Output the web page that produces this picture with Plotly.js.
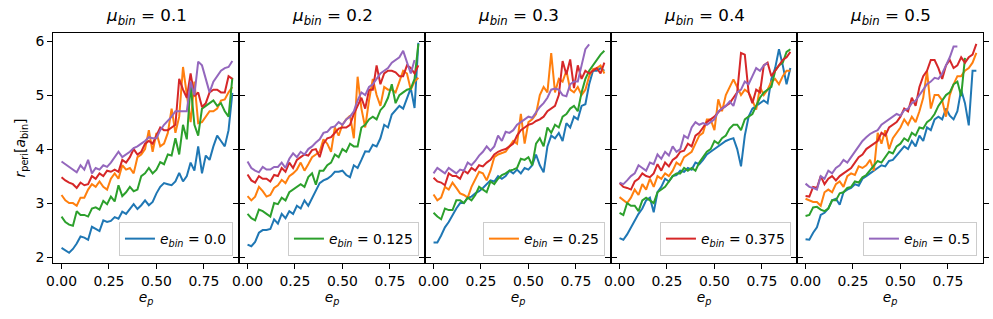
<!DOCTYPE html>
<html>
<head>
<meta charset="utf-8">
<script src="https://cdn.plot.ly/plotly-3.0.1.min.js"></script>
<style>html,body{margin:0;padding:0;background:#fff;}#chart{width:993px;height:319px;}</style>
</head>
<body>
<div id="chart"></div>
<script>
// eccentricity of planet (x values)
const ep = [0,0.02,0.04,0.06,0.08,0.1,0.12,0.14,0.16,0.18,0.2,0.22,0.24,0.26,0.28,0.3,0.32,0.34,0.36,0.38,0.4,0.42,0.44,0.46,0.48,0.5,0.52,0.54,0.56,0.58,0.6,0.62,0.64,0.66,0.68,0.7,0.72,0.74,0.76,0.78,0.8,0.82,0.84,0.86,0.88,0.9];

const muBin = ["0.1","0.2","0.3","0.4","0.5"];
const eBinLabels = ["0.0","0.125","0.25","0.375","0.5"];
const xTickVals = [0,0.25,0.5,0.75];
const xTickText = ["0.00","0.25","0.50","0.75"];
const yTickVals = [2,3,4,5,6];

// mu_bin = 0.1
const p1_blue = [2.17,2.12,2.08,2.15,2.25,2.38,2.36,2.32,2.56,2.52,2.48,2.68,2.65,2.67,2.74,2.71,2.84,2.80,2.88,2.98,2.89,2.96,3.05,2.96,3.02,3.18,3.30,3.37,3.35,3.33,3.40,3.56,3.40,3.50,3.75,3.60,4.05,3.55,3.88,3.80,4.05,4.25,4.15,4.05,4.35,5.04];
const p1_orange = [3.15,3.05,3.00,3.00,2.95,3.10,3.10,3.25,3.35,3.30,3.40,3.30,3.25,3.45,3.55,3.45,3.70,3.62,3.65,3.55,3.85,3.90,4.00,4.35,3.95,4.30,4.05,4.10,4.30,4.75,4.30,4.60,5.52,5.00,4.50,5.25,4.48,4.50,4.60,4.70,4.70,4.75,4.90,4.92,5.05,5.15];
const p1_green = [2.75,2.65,2.60,2.58,2.85,2.78,2.78,2.75,2.90,2.92,2.88,3.04,2.98,3.12,3.03,3.33,3.13,3.20,3.30,3.22,3.25,3.50,3.55,3.65,3.55,3.62,3.76,3.72,3.90,3.88,4.20,3.90,4.45,4.18,5.20,4.45,4.25,4.75,4.80,4.85,4.90,4.80,4.85,4.70,4.60,5.32];
const p1_red = [3.48,3.42,3.38,3.35,3.28,3.38,3.33,3.35,3.50,3.45,3.55,3.50,3.60,3.58,3.62,3.58,3.80,3.75,3.85,4.00,3.90,3.95,4.10,4.15,4.10,4.25,4.40,4.35,4.35,4.40,4.45,5.30,5.10,4.95,5.40,4.98,5.05,4.78,4.85,5.05,5.10,5.10,5.05,5.05,5.35,5.30];
const p1_purple = [3.77,3.72,3.67,3.62,3.57,3.70,3.62,3.80,3.55,3.65,3.62,3.70,3.67,3.75,3.85,3.95,3.85,3.90,3.95,4.02,4.05,4.10,4.15,4.22,4.20,4.20,4.35,4.45,4.52,4.60,4.70,4.70,4.70,4.70,5.25,5.00,5.62,5.55,5.30,5.05,5.25,5.35,5.45,5.50,5.52,5.63];

// mu_bin = 0.2
const p2_blue = [2.23,2.20,2.28,2.45,2.50,2.50,2.52,2.70,2.62,2.80,2.72,2.85,2.80,2.95,2.90,3.05,2.95,3.10,3.25,3.37,3.42,3.45,3.50,3.58,3.58,3.60,3.52,3.48,3.70,3.65,3.80,3.96,3.95,4.08,4.05,4.20,4.45,4.40,4.64,4.72,4.80,4.75,4.95,5.13,4.76,5.97];
const p2_orange = [3.13,3.05,3.12,3.30,3.22,3.12,3.15,3.28,3.33,3.43,3.37,3.50,3.55,3.62,3.75,3.60,3.72,3.85,3.90,3.95,4.18,4.10,3.95,4.40,4.25,4.45,4.55,4.62,4.20,5.34,4.75,4.40,4.90,5.30,5.00,4.80,5.15,5.10,5.10,5.05,5.25,5.45,5.40,5.10,5.25,5.32];
const p2_green = [2.80,2.72,2.68,2.88,2.85,2.80,2.75,3.00,2.98,3.10,3.05,3.20,3.25,3.30,3.35,3.30,3.48,3.55,3.34,3.60,3.60,3.70,3.75,3.90,3.85,4.00,3.95,4.10,4.05,4.05,4.40,4.45,4.55,4.60,4.55,4.72,4.80,4.95,5.20,4.85,5.00,5.05,5.10,5.12,5.30,5.95];
const p2_red = [3.53,3.42,3.38,3.50,3.45,3.45,3.40,3.52,3.50,3.65,3.58,3.75,3.65,3.80,3.85,3.90,3.88,3.98,4.00,3.85,4.10,4.20,4.22,4.30,4.38,4.40,4.40,4.45,4.65,4.80,4.95,4.75,5.10,5.10,5.55,5.20,5.40,5.45,5.45,5.42,5.35,5.35,5.55,5.50,5.40,5.55];
const p2_purple = [3.77,3.65,3.60,3.57,3.67,3.62,3.62,3.67,3.67,3.75,3.65,3.82,3.92,3.85,3.95,3.90,4.00,4.05,4.12,4.18,4.30,4.32,4.40,4.42,4.50,4.45,4.55,4.60,4.70,4.90,5.05,5.00,5.15,5.20,5.30,5.40,5.45,5.50,5.60,5.65,5.70,5.82,5.60,5.40,5.65,null];

// mu_bin = 0.3
const p3_blue = [2.27,2.27,2.40,2.55,2.65,2.78,2.90,3.00,3.00,3.10,3.12,3.18,3.22,3.28,3.35,3.42,3.40,3.50,3.45,3.50,3.60,3.55,3.62,3.55,3.65,3.62,3.70,3.90,3.70,3.57,4.05,4.25,4.20,4.30,4.15,4.48,4.40,4.60,4.55,4.80,4.83,5.20,5.45,5.45,5.50,5.45];
const p3_orange = [3.16,3.05,3.10,3.30,3.25,3.38,3.28,3.18,3.15,3.10,3.30,3.45,3.58,3.55,3.42,3.60,3.85,3.90,3.92,3.95,4.05,4.15,4.10,4.65,4.10,4.50,4.55,4.65,5.00,5.15,5.05,5.78,5.05,5.30,5.25,5.45,5.10,5.05,5.15,5.00,5.10,5.35,5.48,5.50,5.55,5.40];
const p3_green = [2.82,2.75,2.70,2.90,2.87,2.87,3.05,3.05,3.00,3.10,3.05,3.15,3.30,3.25,3.20,3.40,3.35,3.45,3.52,3.55,3.60,3.62,3.65,3.82,3.80,3.85,3.70,4.10,4.20,4.05,4.40,4.30,4.45,4.40,4.60,4.65,4.75,4.80,4.70,5.05,5.30,5.45,5.55,5.65,5.75,5.82];
const p3_red = [3.47,3.40,3.38,3.33,3.55,3.50,3.50,3.45,3.60,3.55,3.65,3.60,3.70,3.68,3.75,3.80,3.90,3.95,3.98,4.00,4.05,4.10,4.25,4.35,4.40,4.45,4.47,4.52,4.55,4.60,4.70,4.75,4.80,5.00,5.63,5.38,5.66,5.13,5.55,5.30,5.45,5.40,5.45,5.50,5.40,5.60];
const p3_purple = [3.55,3.65,3.60,3.55,3.65,3.60,3.55,3.62,3.60,3.75,3.70,3.78,3.88,3.95,4.05,3.97,4.05,4.25,4.15,4.32,4.30,4.35,4.45,4.50,4.55,4.60,4.58,4.68,4.78,4.85,4.95,5.10,5.12,5.10,5.00,4.98,5.20,5.25,5.25,5.55,5.85,5.94,null,null,null,null];

// mu_bin = 0.4
const p4_blue = [2.35,2.32,2.42,2.55,2.68,2.80,2.90,3.05,3.10,2.83,3.20,3.30,3.45,3.40,3.50,3.52,3.60,3.58,3.65,3.62,3.75,3.72,3.80,3.90,3.95,4.00,4.05,4.10,4.15,4.18,4.20,4.00,3.68,4.25,4.60,4.75,4.80,4.85,4.90,4.85,5.30,5.50,5.85,5.55,5.20,5.50];
const p4_orange = [3.11,3.05,3.00,3.10,3.25,3.15,3.35,3.25,3.45,3.30,3.50,3.45,3.55,3.50,3.60,3.75,3.70,3.85,3.90,3.95,4.10,4.25,4.30,4.55,4.55,4.35,4.92,4.70,5.00,5.15,5.29,5.15,5.00,5.10,5.05,4.90,4.73,5.15,5.00,5.10,5.25,5.30,5.20,5.35,5.45,5.45];
const p4_green = [2.82,2.78,3.00,2.95,2.95,2.85,3.05,3.10,3.05,3.00,3.20,3.25,3.30,3.40,3.50,3.55,3.55,3.65,3.60,3.65,3.60,3.75,3.85,3.95,4.00,4.15,4.10,4.20,4.25,4.38,4.45,4.45,4.35,4.55,4.60,4.65,4.80,4.95,5.05,5.10,5.15,5.45,5.55,5.60,5.80,5.85];
const p4_red = [3.37,3.30,3.28,3.25,3.40,3.45,3.55,3.50,3.48,3.55,3.72,3.60,3.75,3.68,3.80,3.85,3.95,3.97,4.10,4.05,4.25,4.30,4.40,4.50,4.55,4.60,4.68,4.75,4.80,4.85,4.95,5.05,5.78,5.75,5.05,4.85,5.10,5.05,5.55,5.60,5.35,5.45,5.55,5.65,5.70,5.80];
const p4_purple = [3.38,3.35,3.42,3.50,3.55,3.70,3.65,3.60,3.75,3.72,3.90,3.82,3.95,3.88,4.05,3.95,4.00,4.25,4.20,4.40,4.50,4.45,4.48,4.45,4.50,4.55,4.70,4.75,4.80,4.88,4.80,5.05,5.10,5.25,5.20,5.35,5.50,5.45,5.55,5.60,null,null,null,null,null,null];

// mu_bin = 0.5
const p5_blue = [2.33,2.32,2.45,2.55,2.78,2.82,2.90,3.05,3.08,2.97,3.20,3.25,3.28,3.35,3.32,3.45,3.50,3.55,3.60,3.65,3.70,3.68,3.78,3.80,3.88,3.95,4.05,4.00,4.15,4.05,4.25,4.15,4.40,4.35,4.55,4.60,4.55,4.75,4.62,4.55,4.70,5.10,4.85,4.44,5.45,5.45];
const p5_orange = [3.08,3.05,3.02,3.02,2.95,3.20,3.25,3.20,3.35,3.40,3.30,3.50,3.55,3.52,3.68,3.65,3.70,3.80,3.60,4.30,4.10,4.35,4.00,4.20,4.30,4.40,4.55,4.45,4.60,4.50,4.70,4.95,5.45,4.75,5.00,5.00,4.90,4.60,5.00,5.20,5.35,5.35,5.45,5.50,5.60,5.78];
const p5_green = [2.76,2.78,2.92,2.93,2.88,2.85,2.90,3.05,3.05,3.18,3.20,3.28,3.30,3.40,3.38,3.48,3.52,3.60,3.70,3.78,3.75,3.85,3.95,3.92,4.05,4.10,4.20,4.15,4.30,4.25,4.40,4.38,4.50,4.55,4.65,4.80,4.90,5.00,5.05,5.20,5.25,4.98,5.69,null,null,null];
const p5_red = [3.13,3.12,3.30,3.28,3.50,3.35,3.45,3.50,3.42,3.50,3.55,3.60,3.65,3.75,3.85,3.90,4.00,4.05,4.10,4.15,4.30,4.25,4.40,4.45,4.50,4.60,4.75,4.70,4.95,4.80,5.15,5.35,5.45,5.65,5.65,5.50,5.30,5.55,5.65,5.50,5.55,5.70,5.60,5.70,5.75,5.95];
const p5_purple = [3.36,3.30,3.28,3.25,3.50,3.45,3.60,3.55,3.65,3.70,3.80,3.75,3.85,3.95,4.05,4.15,4.22,4.28,4.32,4.35,4.45,4.50,4.55,4.60,4.65,4.62,4.72,4.75,4.85,4.90,5.00,5.10,5.20,5.25,5.32,5.30,5.40,5.55,5.70,5.90,5.90,null,null,null,null,null];

const panels = [
  [p1_blue,p1_orange,p1_green,p1_red,p1_purple],
  [p2_blue,p2_orange,p2_green,p2_red,p2_purple],
  [p3_blue,p3_orange,p3_green,p3_red,p3_purple],
  [p4_blue,p4_orange,p4_green,p4_red,p4_purple],
  [p5_blue,p5_orange,p5_green,p5_red,p5_purple]
];
// colour order (matplotlib cycle) and which e_bin each colour represents
const colors = ["#1f77b4","#ff7f0e","#2ca02c","#d62728","#9467bd"];
const colorEbinIndex = [0,2,1,3,4];
// which colour index is shown in each panel's legend
const legendColor = [0,2,1,3,4];

const FONT = "DejaVu Sans";
const traces = [];
const layout = {
  width: 993, height: 319,
  margin: {l: 53, r: 10, t: 33, b: 56, pad: 0},
  paper_bgcolor: "#fff", plot_bgcolor: "#fff",
  font: {family: FONT, size: 13.9, color: "#000"},
  showlegend: true,
  annotations: []
};

for (let p = 0; p < 5; p++) {
  const xs = p === 0 ? "x" : "x" + (p + 1);
  const ys = p === 0 ? "y" : "y" + (p + 1);
  const leg = p === 0 ? "legend" : "legend" + (p + 1);
  for (let c = 0; c < 5; c++) {
    traces.push({
      type: "scatter", mode: "lines",
      x: ep, y: panels[p][c],
      xaxis: xs, yaxis: ys,
      line: {color: colors[c], width: 2},
      name: "<i>e<sub>bin</sub></i> = " + eBinLabels[colorEbinIndex[c]],
      showlegend: c === legendColor[p],
      legend: leg,
      connectgaps: false,
      hoverinfo: "skip"
    });
  }
  const xk = p === 0 ? "xaxis" : "xaxis" + (p + 1);
  const yk = p === 0 ? "yaxis" : "yaxis" + (p + 1);
  layout[xk] = {
    domain: [p * 0.2, (p + 1) * 0.2],
    anchor: ys,
    range: [-0.045, 0.935],
    tickvals: xTickVals, ticktext: xTickText,
    ticks: "outside", ticklen: 5, tickwidth: 1, tickcolor: "#000",
    showline: true, linecolor: "#000", linewidth: 1, mirror: true,
    showgrid: false, zeroline: false,
    tickfont: {family: FONT, size: 13.9, color: "#000"},
    title: {text: "<i>e<sub>p</sub></i>", font: {family: FONT, size: 13.9, color: "#000"}, standoff: 4}
  };
  layout[yk] = {
    anchor: xs,
    domain: [0, 1],
    range: [1.89, 6.15],
    tickvals: yTickVals,
    ticks: "outside", ticklen: 5, tickwidth: 1, tickcolor: "#000",
    showline: true, linecolor: "#000", linewidth: 1, mirror: "ticks",
    showgrid: false, zeroline: false,
    showticklabels: p === 0,
    tickfont: {family: FONT, size: 13.9, color: "#000"}
  };
  if (p > 0) layout[yk].matches = "y";
  if (p === 0) {
    layout[yk].title = {text: "<i>r</i><sub>peri</sub>[<i>a</i><sub>bin</sub>]", font: {family: FONT, size: 13.9, color: "#000"}, standoff: 6};
  }
  layout[leg] = {
    x: (p + 1) * 0.2 - 0.0065, y: 0.03,
    xanchor: "right", yanchor: "bottom",
    xref: "paper", yref: "paper",
    bgcolor: "rgba(255,255,255,0.8)",
    bordercolor: "#cccccc", borderwidth: 1,
    font: {family: FONT, size: 13.9, color: "#000"},
    tracegroupgap: 0
  };
  layout.annotations.push({
    text: "<i>μ<sub>bin</sub></i> = " + muBin[p],
    xref: "paper", yref: "paper",
    x: p * 0.2 + 0.1, y: 1,
    xanchor: "center", yanchor: "bottom",
    yshift: 3, showarrow: false,
    font: {family: FONT, size: 16.7, color: "#000"}
  });
}

Plotly.newPlot("chart", traces, layout, {displayModeBar: false, staticPlot: true});
</script>
</body>
</html>
